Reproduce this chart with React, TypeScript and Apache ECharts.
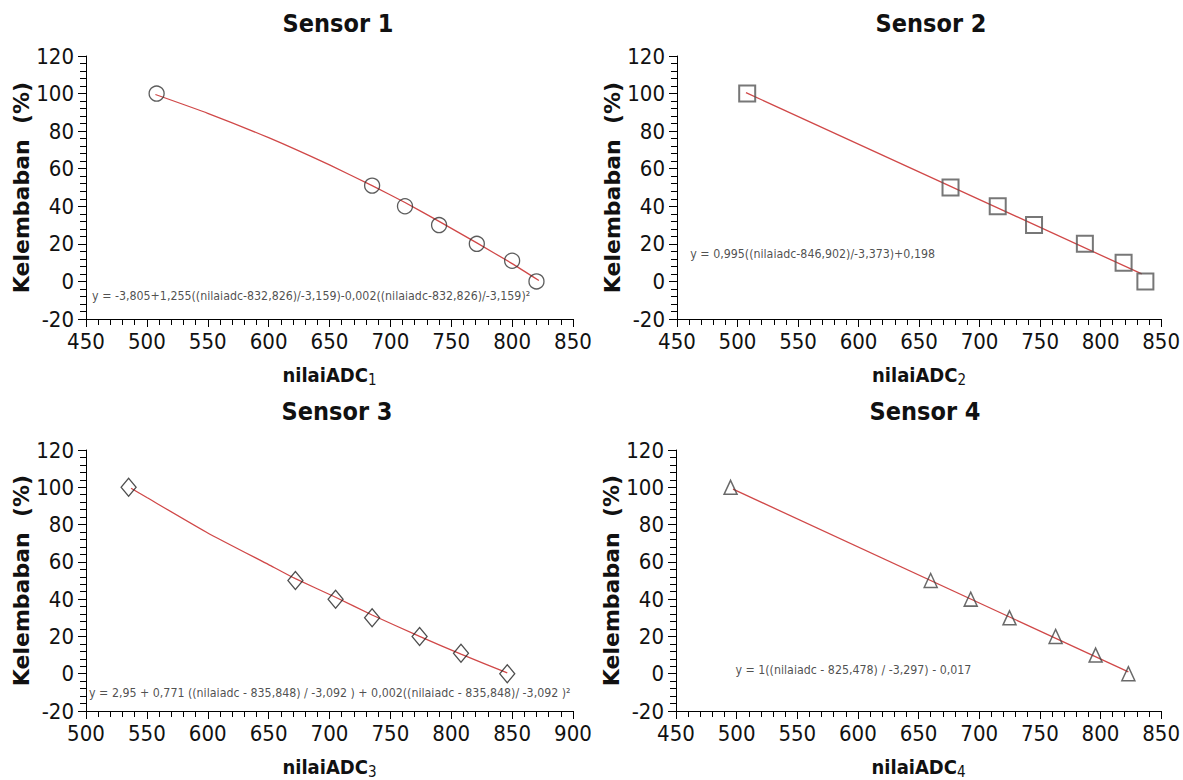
import React, { useEffect, useRef } from "react";
import * as echarts from "echarts";

// ---------- data ----------
const titles = ["Sensor 1", "Sensor 2", "Sensor 3", "Sensor 4"];
const xNames = ["nilaiADC", "nilaiADC", "nilaiADC", "nilaiADC"];
const xSubs = ["1", "2", "3", "4"];
const xMins = [450, 450, 500, 450];
const xMaxs = [850, 850, 900, 850];
const yMin = -20;
const yMax = 120;

// measured points
const s1X = [508, 685, 712, 740, 771, 800, 820];
const s1Y = [100, 51, 40, 30, 20, 11, 0];
const s2X = [508, 676, 715, 745, 787, 819, 837];
const s2Y = [100, 50, 40, 30, 20, 10, 0];
const s3X = [535, 672, 705, 735, 774, 808, 846];
const s3Y = [100, 50, 40, 30, 20, 11, 0];
const s4X = [495, 660, 693, 725, 763, 796, 823];
const s4Y = [100, 50, 40, 30, 20, 10, 0];

// fitted lines
const fit1X = [507, 550, 600, 650, 685, 712, 740, 771, 800, 822];
const fit1Y = [99.5, 89.5, 76.5, 62, 51, 42, 32, 20.5, 9.5, 0.5];
const fit2X = [507, 834];
const fit2Y = [100.5, 4];
const fit3X = [537, 550, 600, 650, 672, 705, 735, 774, 808, 846];
const fit3Y = [99.5, 94.5, 75.5, 58.5, 51, 41, 31.5, 20, 10.5, 0.5];
const fit4X = [497, 823];
const fit4Y = [99, 1];

// equations and their anchor (data coords)
const equations = [
  "y = -3,805+1,255((nilaiadc-832,826)/-3,159)-0,002((nilaiadc-832,826)/-3,159)²",
  "y = 0,995((nilaiadc-846,902)/-3,373)+0,198",
  "y = 2,95 + 0,771 ((nilaiadc - 835,848) / -3,092 ) + 0,002((nilaiadc - 835,848)/ -3,092 )²",
  "y = 1((nilaiadc - 825,478) / -3,297) - 0,017",
];
const eqX = [455, 461, 502.5, 499];
const eqY = [-8, 14.5, -10.5, 2];

const symbols = ["circle", "rect", "diamond", "triangle"];
const symbolSizes: any[] = [15, 16, [15, 18], [13, 14]];
const symbolBorder = [
  { c: "#333", w: 1.3 },
  { c: "#555", w: 2 },
  { c: "#222", w: 1.3 },
  { c: "#444", w: 1.5 },
];

const ptsX = [s1X, s2X, s3X, s4X];
const ptsY = [s1Y, s2Y, s3Y, s4Y];
const fitX = [fit1X, fit2X, fit3X, fit4X];
const fitY = [fit1Y, fit2Y, fit3Y, fit4Y];
const smoothFlags = [true, false, true, false];

// ---------- layout ----------
const grids = [
  { left: 86, top: 56, width: 487, height: 263 },
  { left: 677, top: 56, width: 490, height: 263 },
  { left: 86, top: 450, width: 487, height: 261 },
  { left: 676, top: 450, width: 489, height: 261 },
];
const titlePos = [
  { x: 338, y: 23 },
  { x: 931, y: 23 },
  { x: 337, y: 411 },
  { x: 925, y: 411 },
];

const NARROW = "'DejaVu Sans Condensed', sans-serif";
const BOLD = "'DejaVu Sans Condensed', 'DejaVu Sans', sans-serif";
const BOLDWIDE = "'DejaVu Sans', sans-serif";
const EQFONT = "'DejaVu Sans Condensed', sans-serif";

export default function App() {
  const ref = useRef<HTMLDivElement>(null);
  useEffect(() => {
    if (!ref.current) return;
    const chart = echarts.init(ref.current, undefined, { renderer: "svg" });
    const xAxis: any[] = [];
    const yAxis: any[] = [];
    const series: any[] = [];
    const axisLine = { onZero: false, lineStyle: { color: "#000", width: 1 } };
    for (let i = 0; i < 4; i++) {
      xAxis.push({
        gridIndex: i,
        type: "value",
        min: xMins[i],
        max: xMaxs[i],
        interval: 50,
        axisLine,
        axisTick: { show: true, length: 8, lineStyle: { color: "#000" } },
        minorTick: { show: true, splitNumber: 5, length: 6, lineStyle: { color: "#000" } },
        splitLine: { show: false },
        axisLabel: { fontFamily: NARROW, fontSize: 22, color: "#111", margin: 11 },
        name: `{a|${xNames[i]}}{b|${xSubs[i]}}`,
        nameLocation: "middle",
        nameGap: 44,
        nameTextStyle: {
          rich: {
            a: { fontFamily: BOLD, fontSize: 20, fontWeight: "bold", color: "#111" },
            b: { fontFamily: NARROW, fontSize: 15, color: "#111", padding: [9, 0, 0, 0] },
          },
        },
      });
      yAxis.push({
        gridIndex: i,
        type: "value",
        min: yMin,
        max: yMax,
        interval: 20,
        axisLine,
        axisTick: { show: true, length: 8, lineStyle: { color: "#000" } },
        minorTick: { show: true, splitNumber: 5, length: 6, lineStyle: { color: "#000" } },
        splitLine: { show: false },
        axisLabel: { fontFamily: NARROW, fontSize: 22, color: "#111", margin: 12 },
        name: "Kelembaban  (%)",
        nameLocation: "middle",
        nameGap: 52,
        nameTextStyle: { fontFamily: BOLDWIDE, fontSize: 22, fontWeight: "bold", color: "#111" },
      });
      series.push({
        type: "line",
        xAxisIndex: i,
        yAxisIndex: i,
        data: fitX[i].map((x, k) => [x, fitY[i][k]]),
        smooth: smoothFlags[i] ? 0.15 : false,
        symbol: "none",
        lineStyle: { color: "#d04848", width: 1.3 },
        silent: true,
        z: 2,
      });
      series.push({
        type: "scatter",
        xAxisIndex: i,
        yAxisIndex: i,
        data: ptsX[i].map((x, k) => [x, ptsY[i][k]]),
        symbol: symbols[i],
        symbolSize: symbolSizes[i],
        itemStyle: {
          color: "rgba(255,255,255,0)",
          borderColor: symbolBorder[i].c,
          borderWidth: symbolBorder[i].w,
        },
        z: 3,
      });
      series.push({
        type: "scatter",
        xAxisIndex: i,
        yAxisIndex: i,
        data: [[eqX[i], eqY[i]]],
        symbolSize: 0,
        silent: true,
        label: {
          show: true,
          position: "right",
          distance: 0,
          formatter: equations[i],
          fontFamily: EQFONT,
          fontSize: 12.3,
          color: "#222",
        },
        z: 4,
      });
    }
    chart.setOption({
      animation: false,
      backgroundColor: "#fff",
      grid: grids.map((g) => ({ ...g, containLabel: false })),
      xAxis,
      yAxis,
      series,
      graphic: titles.map((t, i) => ({
        type: "text",
        x: titlePos[i].x,
        y: titlePos[i].y,
        style: {
          text: t,
          fontFamily: BOLD,
          fontSize: 25,
          fontWeight: "bold",
          fill: "#111",
          align: "center",
          verticalAlign: "middle",
        },
      })),
    });
    return () => chart.dispose();
  }, []);
  return (
    <div
      ref={ref}
      style={{ position: "fixed", left: 0, top: 0, width: 1183, height: 780, background: "#fff" }}
    />
  );
}
